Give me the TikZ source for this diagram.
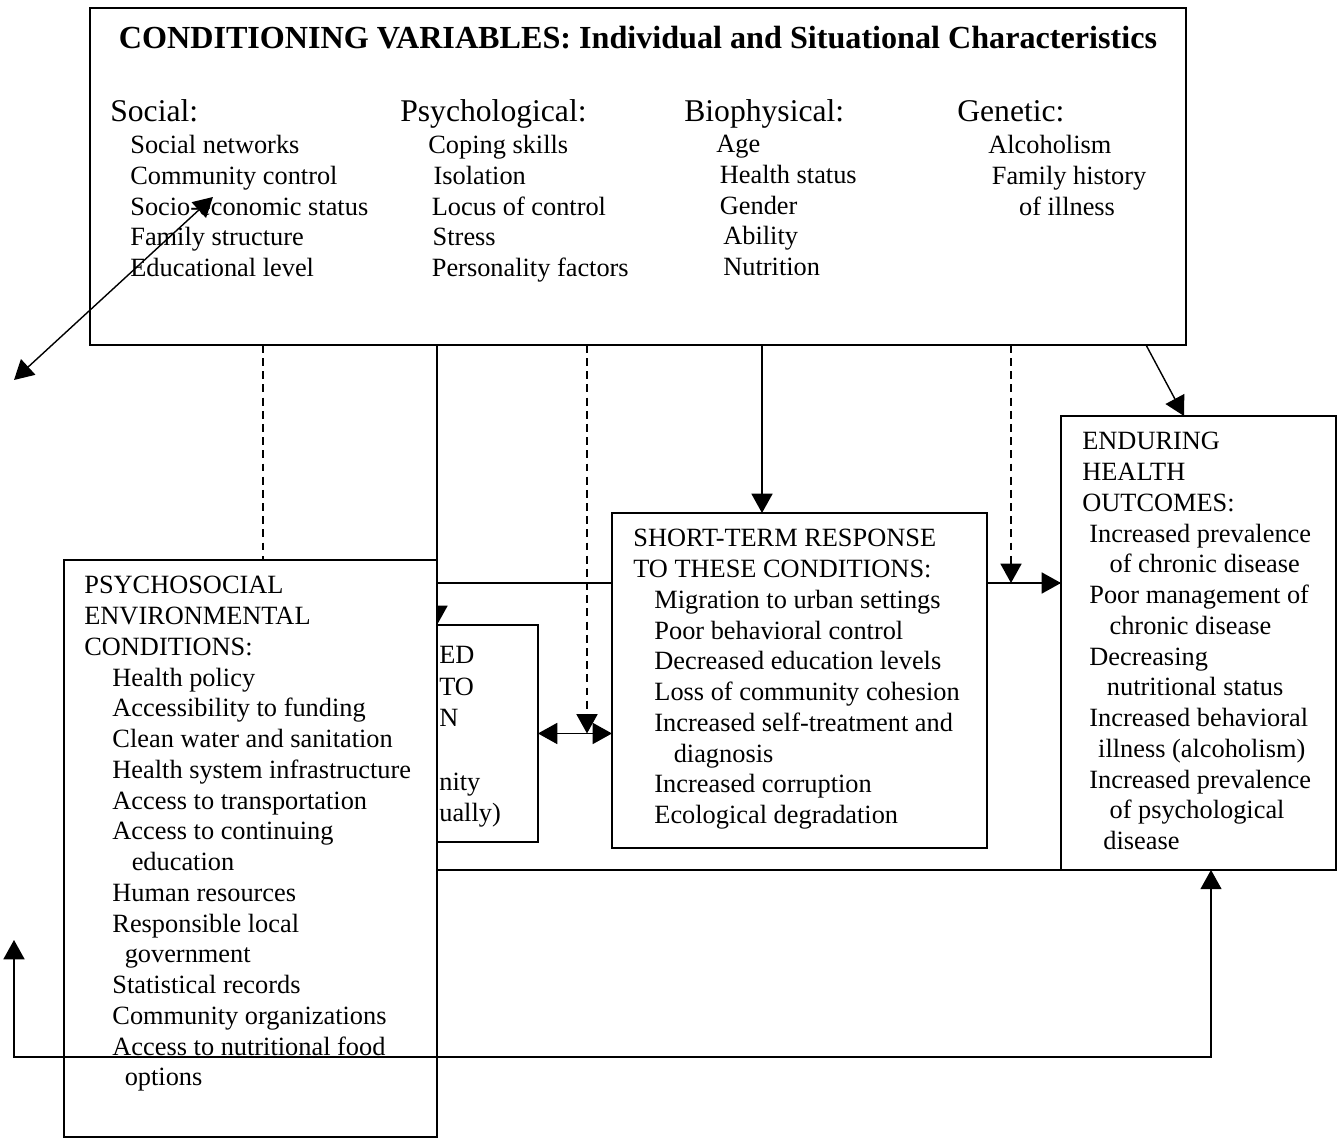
\documentclass[tikz,border=0pt]{standalone}
\usepackage{fontspec}
\setmainfont{Liberation Serif}
\usetikzlibrary{arrows.meta}

\begin{document}
\begin{tikzpicture}[x=0.02cm,y=-0.02cm,
	box/.style={draw,line width=1.1pt,anchor=north west,inner sep=0pt,outer sep=0pt},
	txt/.style={anchor=north west,inner sep=0pt,align=left,font=\fontsize{15}{17.5}\selectfont,execute at begin node=\strut},
	hd/.style={anchor=base west,inner sep=0pt,font=\fontsize{18}{21}\selectfont},
	a/.style={-{Triangle[length=11pt,width=12pt]},line width=0.8pt},
	aa/.style={{Triangle[length=11pt,width=12pt]}-{Triangle[length=11pt,width=12pt]},line width=0.8pt},
	dsh/.style={dash pattern=on 4.5pt off 3pt}]
\useasboundingbox (0,0) rectangle (1339,1141);
% back frame and the box behind the psychosocial one
\node[box,line width=1pt,minimum width=15.22cm,minimum height=5.74cm] (frame) at (300,583) {};
\node[box,minimum width=4.16cm,minimum height=4.34cm] (mid) at (330,625) {};
\node[txt,font=\fontsize{15}{18}\selectfont] (midt) at (439,646) {ED\\TO\\N\\ \\nity\\ually)};
\node[box,minimum width=21.92cm,minimum height=6.74cm] (cond) at (90,8) {};
\draw[a] (cond.south -| mid.north west) ++(107,0) coordinate (xm) -- (xm |- mid.north);
% boxes
\node[box,fill=white,minimum width=7.46cm,minimum height=11.54cm] (psy) at (64,560) {};
\node[box,fill=white,minimum width=7.5cm,minimum height=6.7cm] (short) at (612,513) {};
\node[box,minimum width=5.5cm,minimum height=9.08cm] (out) at (1061,416) {};
% texts
\node[anchor=base,inner sep=0pt,font=\fontsize{18.3}{21}\selectfont\bfseries] (title) at (638,49)
	{CONDITIONING VARIABLES: Individual and Situational Characteristics};
\node[hd] (soc) at (110,122) {Social:};
\node[hd] (psych) at (400,122) {Psychological:};
\node[hd] (bio) at (684,122) {Biophysical:};
\node[hd] (gen) at (957,122) {Genetic:};
\node[txt] (socl) at (130,135) {Social networks\\Community control\\Socio-economic status\\Family structure\\Educational level};
\node[txt] (psychl) at (428,135) {Coping skills\\\hspace*{3pt}Isolation\\\hspace*{2pt}Locus of control\\\hspace*{2.5pt}Stress\\\hspace*{2pt}Personality factors};
\node[txt] (biol) at (716,135) {Age\\\hspace*{2pt}Health status\\\hspace*{2pt}Gender\\\hspace*{4pt}Ability\\\hspace*{4pt}Nutrition};
\node[txt] (genl) at (988,135) {Alcoholism\\\hspace*{2pt}Family history\\\hspace*{17.5pt}of illness};
\node[txt] (psyt) at (84,576) {PSYCHOSOCIAL\\ENVIRONMENTAL\\CONDITIONS:\\
	\hspace*{16pt}Health policy\\\hspace*{16pt}Accessibility to funding\\\hspace*{16pt}Clean water and sanitation\\
	\hspace*{16pt}Health system infrastructure\\\hspace*{16pt}Access to transportation\\\hspace*{16pt}Access to continuing\\
	\hspace*{27pt}education\\\hspace*{16pt}Human resources\\\hspace*{16pt}Responsible local\\\hspace*{23pt}government\\
	\hspace*{16pt}Statistical records\\\hspace*{16pt}Community organizations\\\hspace*{16pt}Access to nutritional food\\
	\hspace*{23pt}options};
\node[txt] (shortt) at (633,529) {SHORT-TERM RESPONSE\\TO THESE CONDITIONS:\\
	\hspace*{12pt}Migration to urban settings\\\hspace*{12pt}Poor behavioral control\\\hspace*{12pt}Decreased education levels\\
	\hspace*{12pt}Loss of community cohesion\\\hspace*{12pt}Increased self-treatment and\\\hspace*{23pt}diagnosis\\
	\hspace*{12pt}Increased corruption\\\hspace*{12pt}Ecological degradation};
\node[txt] (outt) at (1082,432) {ENDURING\\HEALTH\\OUTCOMES:\\
	\hspace*{4pt}Increased prevalence\\\hspace*{15.5pt}of chronic disease\\\hspace*{4pt}Poor management of\\\hspace*{15.5pt}chronic disease\\
	\hspace*{4pt}Decreasing\\\hspace*{14pt}nutritional status\\\hspace*{4pt}Increased behavioral\\\hspace*{9pt}illness (alcoholism)\\
	\hspace*{4pt}Increased prevalence\\\hspace*{15.5pt}of psychological\\\hspace*{12pt}disease};
% connectors
\coordinate (xa) at (263,0);
\coordinate (xb) at (587,0);
\coordinate (xc) at (762,0);
\coordinate (xd) at (1011,0);
\coordinate (xf) at (1146,0);
\coordinate (xg) at (1184,0);
\coordinate (xe) at (1211,0);
\coordinate (p1) at (14,380);
\coordinate (p2) at (213,197);
\coordinate (q1) at (14,940);
\coordinate (q2) at (14,1057);
\draw[line width=0.8pt,dsh] (cond.south -| xa) -- (psy.north -| xa);
\draw[a,dsh] (cond.south -| xb) -- (xb |- mid.east);
\draw[a] (cond.south -| xc) -- (short.north -| xc);
\draw[a,dsh] (cond.south -| xd) -- (xd |- frame.north);
\draw[a] (cond.south -| xf) -- (out.north -| xg);
\draw[a] (short.east |- frame.north) -- (out.west |- frame.north);
\draw[aa] (mid.east) -- (mid.east -| short.west);
\draw[aa] (p1) -- (p2);
\draw[aa] (q1) -- (q2) -| (out.south -| xe);
\end{tikzpicture}
\end{document}
